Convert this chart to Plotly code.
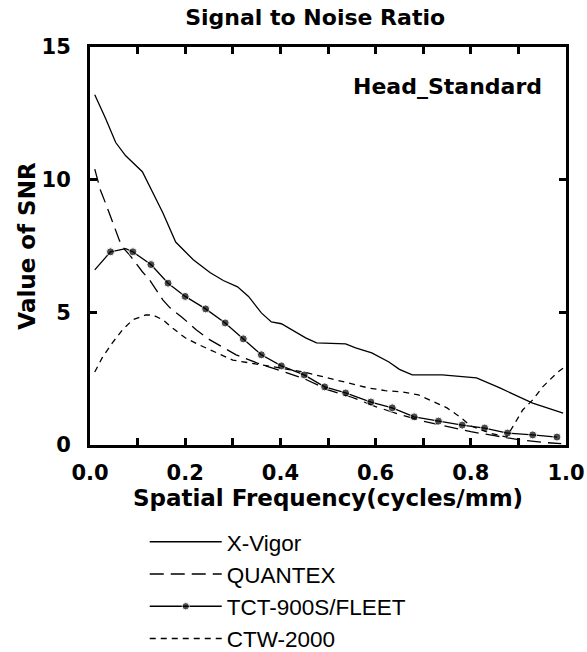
import plotly.graph_objects as go

# ---------------- data ----------------
xvigor_freq = [0.01, 0.033, 0.054, 0.075, 0.11, 0.13, 0.153, 0.18, 0.217, 0.252, 0.28, 0.31,
               0.333, 0.36, 0.381, 0.402, 0.453, 0.476, 0.537, 0.558, 0.592, 0.628, 0.65,
               0.677, 0.74, 0.812, 0.861, 0.93, 0.994]
xvigor_snr = [13.2, 12.3, 11.4, 10.9, 10.3, 9.6, 8.75, 7.65, 6.98, 6.5, 6.2, 5.96,
              5.6, 4.98, 4.64, 4.57, 4.04, 3.85, 3.81, 3.66, 3.47, 3.13, 2.85,
              2.64, 2.64, 2.53, 2.15, 1.58, 1.2]

quantex_freq = [0.01, 0.022, 0.033, 0.047, 0.062, 0.073, 0.083, 0.11, 0.125, 0.153, 0.168,
                0.195, 0.223, 0.252, 0.28, 0.307, 0.35, 0.4, 0.45, 0.5, 0.55, 0.6, 0.65,
                0.7, 0.75, 0.8, 0.85, 0.9, 0.95, 0.99]
quantex_snr = [10.4, 9.6, 9.1, 8.4, 7.7, 7.36, 7.17, 6.53, 6.23, 5.47, 5.17,
               4.79, 4.34, 3.96, 3.66, 3.4, 3.1, 2.8, 2.5, 2.08, 1.8, 1.45, 1.15,
               0.9, 0.7, 0.5, 0.35, 0.2, 0.1, 0.05]

tct_freq = [0.01, 0.043, 0.075, 0.09, 0.128, 0.164, 0.2, 0.243, 0.284, 0.322, 0.36, 0.402,
            0.45, 0.493, 0.537, 0.59, 0.635, 0.681, 0.732, 0.782, 0.829, 0.877, 0.93, 0.981]
tct_snr = [6.6, 7.28, 7.4, 7.28, 6.8, 6.1, 5.6, 5.13, 4.6, 4.0, 3.4, 2.98,
           2.64, 2.19, 1.96, 1.62, 1.4, 1.06, 0.9, 0.75, 0.64, 0.45, 0.38, 0.3]
tct_marked = [False, True, False, True, True, True, True, True, True, True, True, True,
              True, True, True, True, True, True, True, True, True, True, True, True]

ctw_freq = [0.01, 0.026, 0.047, 0.068, 0.09, 0.117, 0.132, 0.153, 0.174, 0.2, 0.23, 0.265,
            0.3, 0.35, 0.4, 0.45, 0.49, 0.54, 0.585, 0.62, 0.656, 0.69, 0.72, 0.75, 0.78,
            0.8, 0.84, 0.875, 0.888, 0.909, 0.93, 0.951, 0.981, 0.994]
ctw_snr = [2.75, 3.3, 3.85, 4.34, 4.72, 4.9, 4.9, 4.72, 4.4, 4.04, 3.77, 3.47,
           3.2, 3.05, 2.9, 2.75, 2.57, 2.35, 2.15, 2.05, 2.0, 1.89, 1.66, 1.4, 1.02,
           0.72, 0.45, 0.3, 0.68, 1.32, 1.7, 2.19, 2.72, 2.9]

x_tickvals = [0.0, 0.1, 0.2, 0.3, 0.4, 0.5, 0.6, 0.7, 0.8, 0.9, 1.0]
x_ticktext = ["0.0", "", "0.2", "", "0.4", "", "0.6", "", "0.8", "", "1.0"]
y_tickvals = [0, 5, 10, 15]
y_ticktext = ["0", "5", "10", "15"]

# ---------------- figure ----------------
BOLD = "DejaVu Sans, sans-serif"
REG = "Liberation Sans, Arial, sans-serif"
LW = 1.3

fig = go.Figure()
fig.add_trace(go.Scatter(x=xvigor_freq, y=xvigor_snr, mode="lines", name="X-Vigor",
                         line=dict(color="black", width=LW), legendgroup="a"))
fig.add_trace(go.Scatter(x=quantex_freq, y=quantex_snr, mode="lines", name="QUANTEX",
                         line=dict(color="black", width=LW, dash="14px,7px"), legendgroup="b"))
fig.add_trace(go.Scatter(x=tct_freq, y=tct_snr, mode="lines+markers", name="TCT-900S/FLEET",
                         line=dict(color="black", width=LW),
                         marker=dict(color="black", size=[8 if m else 0 for m in tct_marked]),
                         legendgroup="c"))
fig.add_trace(go.Scatter(x=ctw_freq, y=ctw_snr, mode="lines", name="CTW-2000",
                         line=dict(color="black", width=LW, dash="6px,5px"), legendgroup="d"))

axis_common = dict(showline=True, linewidth=3, linecolor="black", mirror="ticks",
                   ticks="inside", ticklen=7, tickwidth=2.5, tickcolor="black",
                   showgrid=False, zeroline=False, automargin=False,
                   tickfont=dict(family=BOLD, size=21, color="black", weight="bold"))

fig.update_xaxes(range=[0, 1], tickmode="array", tickvals=x_tickvals, ticktext=x_ticktext,
                 ticklabelstandoff=7,
                 title=dict(text="Spatial Frequency(cycles/mm)", standoff=2,
                            font=dict(family=BOLD, size=23, color="black", weight="bold")),
                 **axis_common)
fig.update_yaxes(range=[0, 15], tickmode="array", tickvals=y_tickvals, ticktext=y_ticktext,
                 ticklabelstandoff=12,
                 title=dict(text="Value of SNR", standoff=0,
                            font=dict(family=BOLD, size=23, color="black", weight="bold")),
                 **axis_common)

fig.add_annotation(text="Head_Standard", xref="paper", yref="paper", x=0.954, y=0.902,
                   xanchor="right", yanchor="middle", showarrow=False,
                   font=dict(family=BOLD, size=22, color="black", weight="bold"))

fig.update_layout(
    width=587, height=652,
    margin=dict(l=90, r=21, t=47, b=207, autoexpand=False),
    paper_bgcolor="white", plot_bgcolor="white",
    title=dict(text="Signal to Noise Ratio", x=0.473, xref="paper", y=1 - 17 / 652,
               yref="container", xanchor="center", yanchor="middle",
               font=dict(family=BOLD, size=22, color="black", weight="bold")),
    legend=dict(x=0.115, y=-0.19, xanchor="left", yanchor="top", tracegroupgap=0,
                itemwidth=72, bgcolor="rgba(0,0,0,0)",
                font=dict(family=REG, size=22.5, color="black")),
    showlegend=True,
)

fig.write_html("out.html")
